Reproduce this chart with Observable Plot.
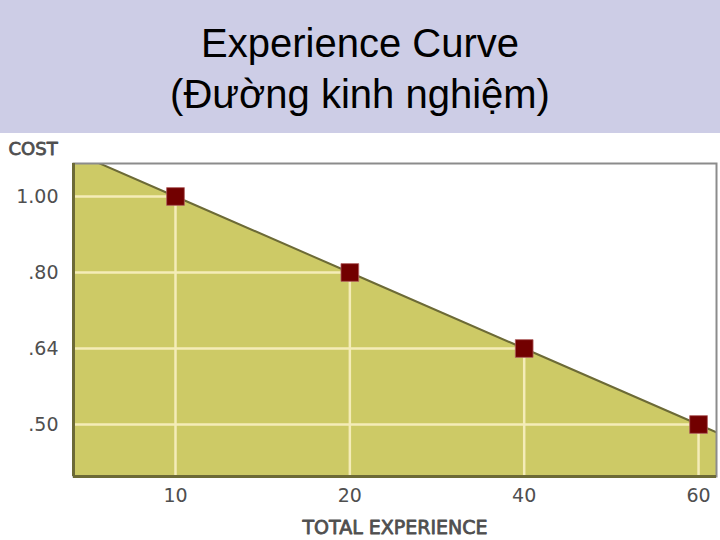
<!DOCTYPE html>
<html>
<head>
<meta charset="utf-8">
<script src="https://cdn.jsdelivr.net/npm/d3@7"></script>
<script src="https://cdn.jsdelivr.net/npm/@observablehq/plot@0.6"></script>
<style>
  html, body { margin: 0; padding: 0; background: #ffffff; width: 720px; height: 540px; overflow: hidden; }
  #title {
    height: 133px; box-sizing: border-box; background: #cdcde6;
    font-family: "Liberation Sans", Arial, sans-serif; font-size: 40px; line-height: 51px;
    color: #000; text-align: center; padding-top: 18px;
  }
  #chart svg { display: block; }
</style>
</head>
<body>
<div id="title">Experience Curve<br>(Đường kinh nghiệm)</div>
<div id="chart"></div>
<script>
// Data
const experience = [10, 20, 40, 60];          // TOTAL EXPERIENCE (x categories)
const cost = [1.00, 0.80, 0.64, 0.50];        // COST at each level
const xTickLabels = ["10", "20", "40", "60"];
const yTickLabels = ["1.00", ".80", ".64", ".50"];
const yTitle = "COST";
const xTitle = "TOTAL EXPERIENCE";

// Ordinal (evenly spaced) positions, as in the original drawing
const data = experience.map((e, i) => ({
  e, c: cost[i],
  xi: xTickLabels.indexOf(String(e)),
  yi: yTickLabels.indexOf(d3.format(".2f")(cost[i]).replace(/^0/, ""))
}));

const xDomain = [-0.585, 3.103];
const yDomain = [3.684, -0.434]; // bottom -> top

// Extend the straight cost line to the frame edges (extrapolated from the end segments)
const first = data[0], second = data[1];
const last = data[data.length - 1], prev = data[data.length - 2];
const sL = (second.yi - first.yi) / (second.xi - first.xi);
const sR = (last.yi - prev.yi) / (last.xi - prev.xi);
const leftX = xDomain[0] - 1, rightX = xDomain[1] + 1;
const ext = [
  {xi: leftX, yi: first.yi + sL * (leftX - first.xi)},
  ...data,
  {xi: rightX, yi: last.yi + sR * (rightX - last.xi)}
];

const fill = "#cdca66";
const olive = "#6c6a36";
const cream = "#f4ecb8";
const labelFont = "DejaVu Sans, Verdana, sans-serif";
const labelColor = "#4f4f4f";
const labelStyle = {fill: labelColor, stroke: labelColor, strokeWidth: 0.8};

const chart = Plot.plot({
  width: 720,
  height: 407,
  marginTop: 30,
  marginBottom: 64,
  marginLeft: 73,
  marginRight: 4,
  style: {background: "#ffffff", fontFamily: labelFont},
  x: {domain: xDomain, axis: null},
  y: {domain: yDomain, axis: null},
  marks: [
    Plot.areaY(ext, {x: "xi", y1: yDomain[0], y2: "yi", fill, clip: true}),
    Plot.ruleY(data, {y: "yi", x1: xDomain[0], x2: "xi", stroke: cream, strokeWidth: 2.5}),
    Plot.ruleX(data, {x: "xi", y1: "yi", y2: yDomain[0], stroke: cream, strokeWidth: 2.5}),
    Plot.line(ext, {x: "xi", y: "yi", stroke: olive, strokeWidth: 2, clip: true}),
    Plot.frame({stroke: "#8c8c8c", strokeWidth: 2}),
    Plot.ruleX([xDomain[0]], {stroke: olive, strokeWidth: 3}),
    Plot.ruleY([yDomain[0]], {stroke: olive, strokeWidth: 3}),
    Plot.dot(data, {x: "xi", y: "yi", symbol: "square", r: 10, fill: "#720000", stroke: "#b06060", strokeWidth: 0.8}),
    Plot.axisY([0, 1, 2, 3], {tickSize: 0, tickPadding: 15, tickFormat: i => yTickLabels[i], fontSize: 19, ...labelStyle, label: null}),
    Plot.axisX([0, 1, 2, 3], {tickSize: 0, tickPadding: 12, tickFormat: i => xTickLabels[i], fontSize: 19, ...labelStyle, label: null}),
    Plot.text([yTitle], {frameAnchor: "top-left", dx: -65, dy: -21, text: d => d, textAnchor: "start", fontSize: 18, ...labelStyle}),
    Plot.text([xTitle], {frameAnchor: "bottom", dy: 57, text: d => d, fontSize: 19, ...labelStyle})
  ]
});
document.getElementById("chart").appendChild(chart);
</script>
</body>
</html>
